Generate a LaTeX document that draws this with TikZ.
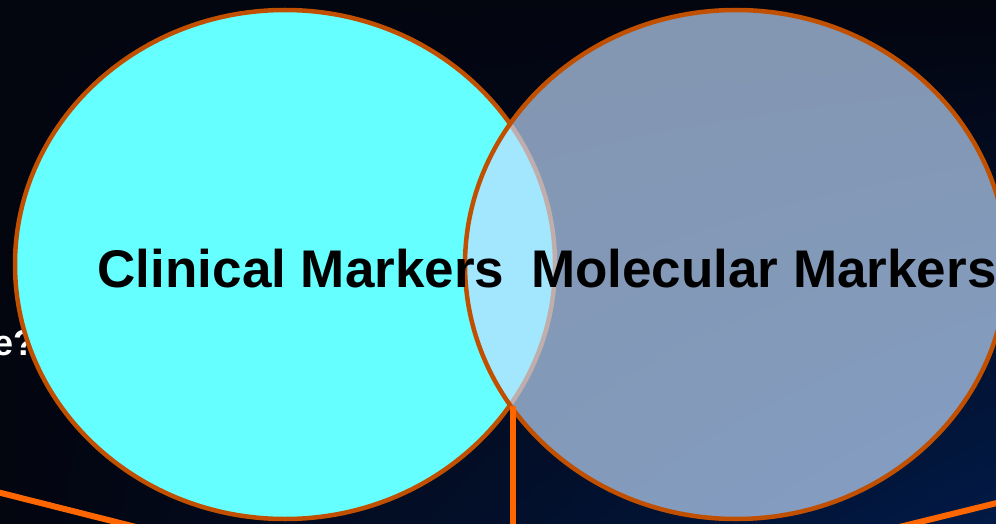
\documentclass[tikz,border=0pt]{standalone}
\usepackage{fontspec}
\setmainfont{Liberation Sans}
\usetikzlibrary{shapes.geometric,shadings}
\definecolor{bgdark}{RGB}{3,5,15}
\definecolor{bgnavy}{RGB}{2,26,70}
\definecolor{rimorange}{RGB}{192,80,0}
\definecolor{linkorange}{RGB}{255,102,0}
\definecolor{clinfill}{RGB}{102,255,255}
\definecolor{molfill}{RGB}{193,220,255}
\tikzset{
  setcircle/.style={ellipse, draw=rimorange, line width=4.5pt, inner sep=0pt},
  setlabel/.style={font=\fontsize{53}{60}\selectfont\bfseries, text=black, inner sep=0pt, anchor=base west},
  link/.style={draw=linkorange, line width=6pt},
  sidetext/.style={font=\fontsize{36}{40}\selectfont\bfseries, text=white, inner sep=0pt, anchor=base east}
}
\begin{document}
\begin{tikzpicture}[x=1pt, y=-1pt]
  \useasboundingbox (0,0) rectangle (996,524);
  \clip (0,0) rectangle (996,524);
  % backdrop
  \shade[upper left=bgdark, upper right=bgdark, lower left=bgdark, lower right=bgnavy]
    (0,0) rectangle (996,524);

  % partial caption at the left edge
  \node[sidetext] (question) at (35.5,355) {e?};

  % the two sets
  \node[setcircle, fill=clinfill, minimum width=540pt, minimum height=509pt]
    (clinical) at (285,264.5) {};
  \node[setcircle, fill=molfill, fill opacity=0.68, minimum width=542pt, minimum height=509pt]
    (molecular) at (736,264.5) {};

  % connectors below the sets
  \coordinate (meet) at (513,406);
  \coordinate (hub) at (513,622);
  \coordinate (lfoot) at (-20,487.7);
  \coordinate (rfoot) at (1016,498.3);
  \draw[link] (hub) -- (meet);
  \draw[link] (lfoot) -- (hub);
  \draw[link] (rfoot) -- (hub);

  % set names
  \node[setlabel] (clinlabel) at (97.5,287) {Clinical Markers};
  \node[setlabel] (mollabel) at (531,287) {Molecular Markers};
\end{tikzpicture}
\end{document}
